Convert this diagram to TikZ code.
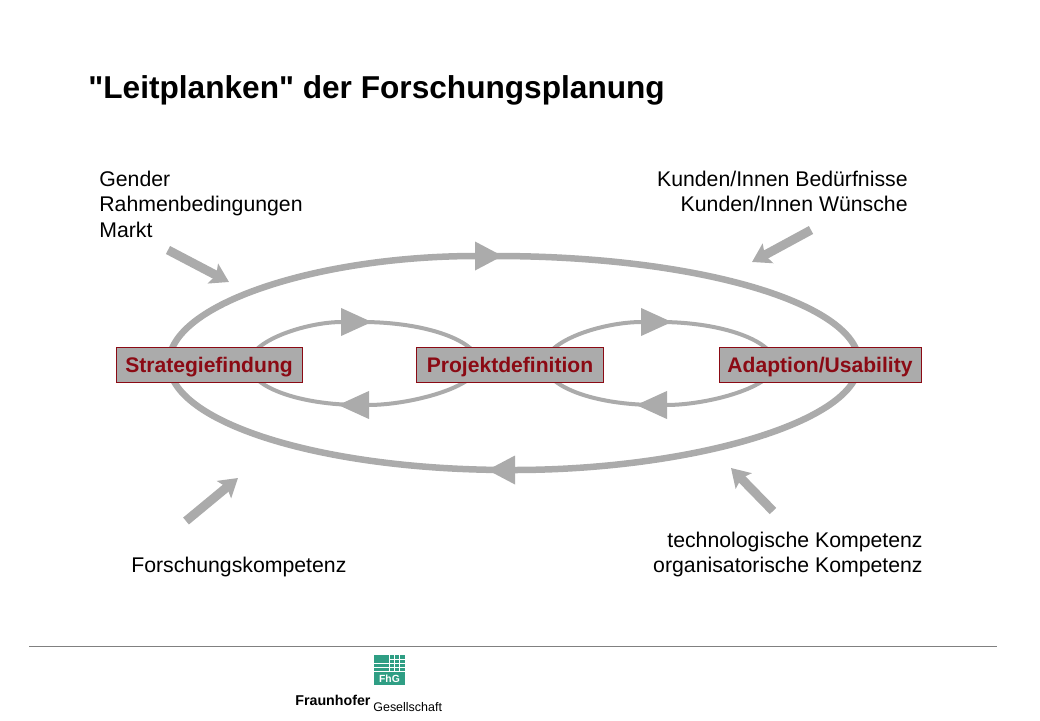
\documentclass[tikz,border=0pt]{standalone}
\usepackage{fontspec}
\setmainfont[Ligatures=TeXOff]{Liberation Sans}
\usetikzlibrary{positioning,arrows.meta,backgrounds}
\definecolor{railgrey}{HTML}{ABABAB}
\definecolor{boxred}{HTML}{8B0A14}
\definecolor{fhggreen}{HTML}{2F9E84}
\tikzset{
    phase/.style={draw=boxred, fill=railgrey, text=boxred, font=\fontsize{12}{14}\selectfont\bfseries, minimum height=35*0.02cm, inner sep=0pt, text height=10pt, text depth=1.46pt},
    note/.style={font=\fontsize{12.1}{14.6}\selectfont, inner sep=0pt},
    outerline/.style={draw=railgrey, line width=6.5*0.02cm},
    innerline/.style={draw=railgrey, line width=4*0.02cm},
    flowtip/.style={-{Triangle[length=#1,width=0.54cm,fill=railgrey]}},
    pushline/.style={draw=railgrey, line width=9*0.02cm, -{Stealth[length=0.36cm,width=0.44cm,inset=0.07cm,fill=railgrey]}}
}
\begin{document}
\begin{tikzpicture}[x=0.02cm,y=-0.02cm]
    \useasboundingbox (0,0) rectangle (1040,720);
    % title
    \node[anchor=west, inner sep=0pt, font=\fontsize{18}{20}\selectfont\bfseries] (title) at (88,90) {"Leitplanken" der Forschungsplanung};
    % phases
    \node[phase, minimum width=186*0.02cm] (strategie) at (209,364.5) {Strategiefindung};
    \node[phase, minimum width=187*0.02cm] (projekt) at (510,364.5) {Projektdefinition};
    \node[phase, minimum width=202*0.02cm] (adaption) at (820,364.5) {Adaption/Usability};
    % loops
    \coordinate (outerW) at (169,363);
    \coordinate (outerN) at (503,256);
    \coordinate (outerE) at (859,363);
    \coordinate (outerS) at (487,470);
    \coordinate (innerAW) at (249,364);
    \coordinate (innerAN) at (372,322);
    \coordinate (innerAE) at (479,364);
    \coordinate (innerAS) at (338,405);
    \coordinate (innerBW) at (545,364);
    \coordinate (innerBN) at (672,322);
    \coordinate (innerBE) at (775,364);
    \coordinate (innerBS) at (636,405);
    \begin{scope}[on background layer]
        \draw[outerline, flowtip=0.56cm] (outerW) .. controls (169,304) and (318,256) .. (outerN);
        \draw[outerline] (495,256) .. controls (700,256) and (859,304) .. (outerE);
        \draw[outerline, flowtip=0.56cm] (outerE) .. controls (859,422) and (690,470) .. (outerS);
        \draw[outerline] (510,470) .. controls (320,470) and (169,422) .. (outerW);
        \draw[innerline, flowtip=0.62cm] (innerAW) .. controls (249,341) and (306,322) .. (innerAN);
        \draw[innerline] (362,322) .. controls (426,322) and (479,341) .. (innerAE);
        \draw[innerline, flowtip=0.62cm] (innerAE) .. controls (479,387) and (410,405) .. (innerAS);
        \draw[innerline] (360,405) .. controls (300,405) and (249,387) .. (innerAW);
        \draw[innerline, flowtip=0.62cm] (innerBW) .. controls (545,341) and (602,322) .. (innerBN);
        \draw[innerline] (660,322) .. controls (722,322) and (775,341) .. (innerBE);
        \draw[innerline, flowtip=0.62cm] (innerBE) .. controls (775,387) and (708,405) .. (innerBS);
        \draw[innerline] (656,405) .. controls (596,405) and (545,387) .. (innerBW);
    \end{scope}
    % notes
    \node[note, anchor=north west, align=left] (gender) at (99,170.5) {Gender\\Rahmenbedingungen\\Markt};
    \node[note, anchor=north east, align=right] (kunden) at (908,170.5) {Kunden/Innen Bedürfnisse\\Kunden/Innen Wünsche};
    \node[note, anchor=north east, align=right] (kompetenz) at (923,531.5) {technologische Kompetenz\\organisatorische Kompetenz};
    \node[note, anchor=north west] (forschung) at (131,557) {Forschungskompetenz};
    % pushes
    \coordinate (pushAs) at (168,250);
    \coordinate (pushAe) at (229,282);
    \coordinate (pushBs) at (811,230);
    \coordinate (pushBe) at (752,262);
    \coordinate (pushCs) at (186,521);
    \coordinate (pushCe) at (238,478);
    \coordinate (pushDs) at (773,511);
    \coordinate (pushDe) at (731,468);
    \draw[pushline] (pushAs) -- (pushAe);
    \draw[pushline] (pushBs) -- (pushBe);
    \draw[pushline] (pushCs) -- (pushCe);
    \draw[pushline] (pushDs) -- (pushDe);
    % footer
    \coordinate (ruleW) at (29,646);
    \coordinate (ruleE) at (997,646);
    \draw[draw=gray, line width=0.02cm] (ruleW) -- (ruleE);
    \fill[fhggreen] (374,655) rectangle (405,685);
    \draw[white, line width=0.7*0.02cm] (374,663) -- (405,663) (374,667) -- (405,667) (389,655) -- (389,671) (394,655) -- (394,671) (399,655) -- (399,671) (389,659) -- (405,659);
    \draw[white, line width=0.02cm] (374,671.5) -- (405,671.5);
    \node[text=white, inner sep=0pt, font=\fontsize{5.9}{7}\selectfont\bfseries] (fhg) at (389.5,678.5) {FhG};
    \node[inner sep=0pt, anchor=base west, font=\fontsize{8.1}{10}\selectfont\bfseries] (fraunhofer) at (295,705) {Fraunhofer};
    \node[inner sep=0pt, anchor=base west, font=\fontsize{7.1}{10}\selectfont] (gesellschaft) at (373,711) {Gesellschaft};
\end{tikzpicture}
\end{document}
